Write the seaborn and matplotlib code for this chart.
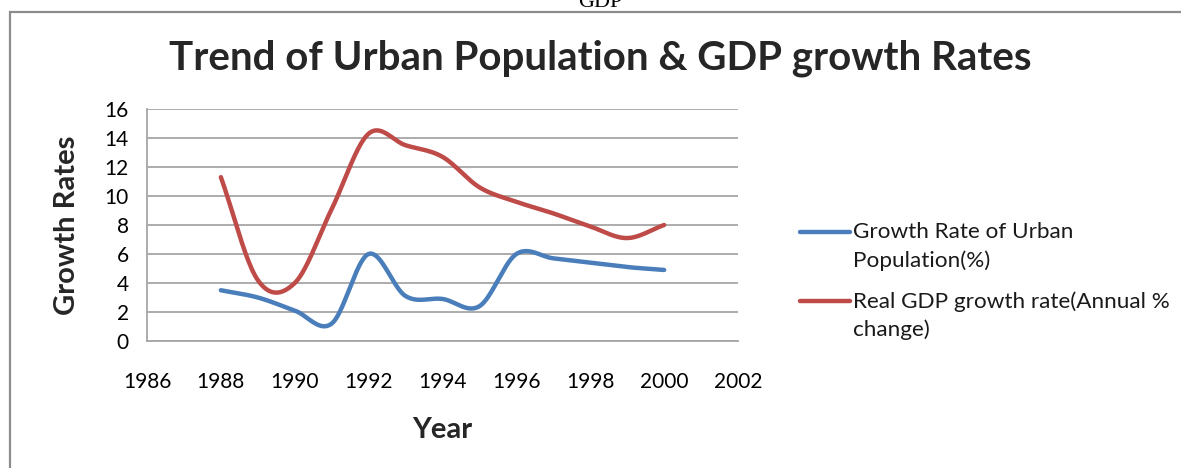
import numpy as np
import pandas as pd
import matplotlib
matplotlib.use("Agg")
import matplotlib.pyplot as plt
from matplotlib.patches import Rectangle
from matplotlib.lines import Line2D
import seaborn as sns

# Annual values
years = [1988, 1989, 1990, 1991, 1992, 1993, 1994, 1995, 1996, 1997, 1998, 1999, 2000]
urban_growth = [3.5, 3.0, 2.1, 1.2, 6.0, 3.1, 2.9, 2.4, 6.0, 5.7, 5.4, 5.1, 4.9]
gdp_growth = [11.3, 4.2, 4.0, 9.1, 14.3, 13.5, 12.7, 10.6, 9.6, 8.8, 7.9, 7.1, 8.0]

series_names = ["Growth Rate of Urban\nPopulation(%)",
                "Real GDP growth rate(Annual %\nchange)"]
series_colors = ["#4a7ebb", "#be4b48"]
x_ticks = list(range(1986, 2003, 2))
y_ticks = list(range(0, 17, 2))


def smooth(xs, ys, n=40):
    """Catmull-Rom style smoothing through every point (spreadsheet 'smoothed line')."""
    xs = np.asarray(xs, float)
    ys = np.asarray(ys, float)
    m = np.empty_like(ys)
    m[1:-1] = (ys[2:] - ys[:-2]) / 2.0
    m[0] = ys[1] - ys[0]
    m[-1] = ys[-1] - ys[-2]
    out_x, out_y = [], []
    for i in range(len(xs) - 1):
        t = np.linspace(0, 1, n, endpoint=False)
        h00 = 2 * t**3 - 3 * t**2 + 1
        h10 = t**3 - 2 * t**2 + t
        h01 = -2 * t**3 + 3 * t**2
        h11 = t**3 - t**2
        out_x.append(xs[i] + t * (xs[i + 1] - xs[i]))
        out_y.append(h00 * ys[i] + h10 * m[i] + h01 * ys[i + 1] + h11 * m[i + 1])
    out_x.append([xs[-1]])
    out_y.append([ys[-1]])
    return np.concatenate(out_x), np.concatenate(out_y)


frames = []
for name, vals in zip(series_names, [urban_growth, gdp_growth]):
    sx, sy = smooth(years, vals)
    frames.append(pd.DataFrame({"Year": sx, "Rate": sy, "Series": name}))
df = pd.concat(frames, ignore_index=True)

sns.set_theme(style="white")
plt.rcParams["font.family"] = ["Lato", "DejaVu Sans"]

W, H = 1181, 468
fig = plt.figure(figsize=(W / 100, H / 100), dpi=100)
ax = fig.add_axes([147 / W, 1 - 341 / H, (738 - 147) / W, (341 - 109) / H])

# Chart area frame
fig.patches.append(Rectangle((10 / W, -0.1), 1.2, 1 - 12 / H + 0.1,
                             transform=fig.transFigure, fill=False,
                             edgecolor="#8c8c8c", linewidth=1.6, zorder=0))
fig.text(0.508, 1 - 7 / H, "GDP", family="Liberation Serif", fontsize=16,
         ha="center", va="baseline", color="black")

sns.lineplot(data=df, x="Year", y="Rate", hue="Series", palette=series_colors,
             linewidth=3.2, ax=ax, sort=False, estimator=None, legend=False)

ax.set_xlim(1986, 2002)
ax.set_ylim(0, 16)
ax.set_xticks(x_ticks)
ax.set_yticks(y_ticks)
ax.tick_params(axis="both", length=0, labelsize=15, colors="black")
ax.tick_params(axis="x", pad=22)
ax.tick_params(axis="y", pad=13)
ax.grid(axis="y", color="#a6a6a6", linewidth=1.3)
ax.set_axisbelow(True)
for side in ["top", "right"]:
    ax.spines[side].set_visible(False)
for side in ["left", "bottom"]:
    ax.spines[side].set_color("#a6a6a6")
    ax.spines[side].set_linewidth(1.3)

ax.set_xlabel("Year", fontsize=21, fontweight="bold", labelpad=18)
ax.set_ylabel("Growth Rates", fontsize=21, fontweight="bold", labelpad=18)

fig.suptitle("Trend of Urban Population & GDP growth Rates", x=0.508, y=1 - 58 / H,
             va="center", fontsize=29, fontweight="bold")

# Legend: line sample beside the first line of each label
legend_rows = [232, 301]
for name, color, row in zip(series_names, series_colors, legend_rows):
    fy = 1 - row / H
    fig.add_artist(Line2D([800 / W, 850 / W], [fy, fy], transform=fig.transFigure,
                          color=color, linewidth=3.2, solid_capstyle="round"))
    fig.text(853 / W, fy + 10 / H, name, ha="left", va="top", fontsize=16.2,
             linespacing=1.5, color="#1a1a1a")

fig.savefig("out.png", dpi=100)
